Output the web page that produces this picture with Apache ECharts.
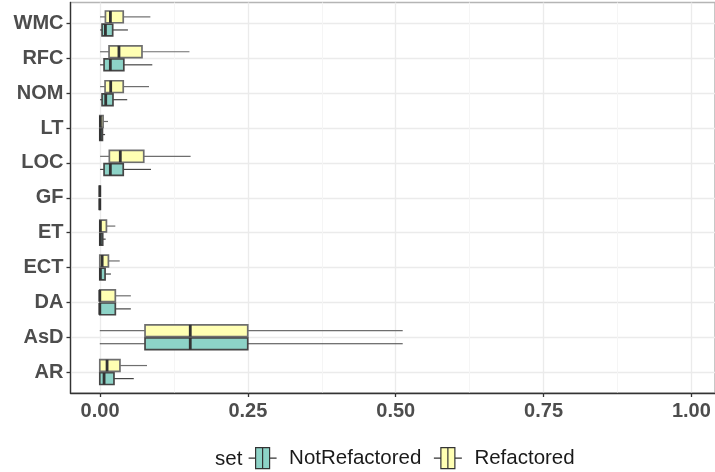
<!DOCTYPE html>
<html>
<head>
<meta charset="utf-8">
<script src="https://cdn.jsdelivr.net/npm/echarts@6/dist/echarts.min.js"></script>
<style>
html,body{margin:0;padding:0;background:#fff;}
#chart{width:715px;height:472px;}
</style>
</head>
<body>
<div id="chart"></div>
<script>
// Categories (bottom to top)
const categories = ['AR','AsD','DA','ECT','ET','GF','LOC','LT','NOM','RFC','WMC'];
const xTicks = [0, 0.25, 0.5, 0.75, 1];
const seriesNames = ['NotRefactored', 'Refactored'];

// NotRefactored box statistics
const notLow  = [0,      0,      0,      0,      0,      0, 0.0005, 0,      0.0005, 0.0005, 0.0005];
const notQ1   = [0,      0.0772, 0,      0,      0,      0, 0.0073, 0,      0.0039, 0.0073, 0.0039];
const notMed  = [0.0073, 0.1544, 0,      0.001,  0.001,  0, 0.018,  0.001,  0.0101, 0.018,  0.0096];
const notQ3   = [0.0242, 0.2525, 0.0265, 0.009,  0.005,  0, 0.040,  0.0045, 0.0225, 0.041,  0.022];
const notHigh = [0.058,  0.517,  0.053,  0.019,  0.010,  0, 0.0874, 0.009,  0.0468, 0.0896, 0.048];

// Refactored box statistics
const refLow  = [0,      0,      0,      0,      0,      0, 0.0005, 0,      0.0005, 0.0005, 0.0005];
const refQ1   = [0,      0.0772, 0,      0,      0,      0, 0.0163, 0,      0.009,  0.0158, 0.0096];
const refMed  = [0.0124, 0.1544, 0,      0.004,  0.001,  0, 0.035,  0.001,  0.0186, 0.0327, 0.0181];
const refQ3   = [0.0344, 0.2525, 0.0265, 0.0147, 0.0113, 0, 0.075,  0.0056, 0.040,  0.072,  0.040];
const refHigh = [0.0806, 0.517,  0.053,  0.034,  0.0265, 0, 0.155,  0.014,  0.084,  0.153,  0.0863];

function buildData(low, q1, med, q3, high) {
  return categories.map((c, i) => [i, low[i], q1[i], med[i], q3[i], high[i]]);
}

const DODGE = 0.1875;      // half of dodge width (0.75/2/2)
const HALF = 0.16875;      // half box height after dodge padding

function makeRenderer(sign, fill, border) {
  return function (params, api) {
    const ci = api.value(0);
    const low = api.value(1), q1 = api.value(2), med = api.value(3), q3 = api.value(4), high = api.value(5);
    const yc = ci + sign * DODGE;
    const pLow = api.coord([low, yc]);
    const pQ1c = api.coord([q1, yc]);
    const pQ3c = api.coord([q3, yc]);
    const pHigh = api.coord([high, yc]);
    const tl = api.coord([q1, yc + HALF]);
    const br = api.coord([q3, yc - HALF]);
    const mt = api.coord([med, yc + HALF]);
    const mb = api.coord([med, yc - HALF]);
    return {
      type: 'group',
      children: [
        { type: 'line', shape: { x1: pLow[0], y1: pLow[1], x2: pQ1c[0], y2: pQ1c[1] },
          style: { stroke: border, lineWidth: 1.2 } },
        { type: 'line', shape: { x1: pQ3c[0], y1: pQ3c[1], x2: pHigh[0], y2: pHigh[1] },
          style: { stroke: border, lineWidth: 1.2 } },
        { type: 'rect', shape: { x: tl[0], y: tl[1], width: br[0] - tl[0], height: br[1] - tl[1] },
          style: { fill: fill, stroke: border, lineWidth: 1.7 } },
        { type: 'line', shape: { x1: mt[0], y1: mt[1], x2: mb[0], y2: mb[1] },
          style: { stroke: '#333333', lineWidth: 2.8 } }
      ]
    };
  };
}

const FONT = '"Liberation Sans", Arial, sans-serif';
const keyIcon = 'path://M0,10.5 L7,10.5 M7,0 L21,0 L21,21 L7,21 Z M14,0 L14,21 M21,10.5 L28,10.5';

const chart = echarts.init(document.getElementById('chart'), null, { renderer: 'canvas' });

const option = {
  animation: false,
  backgroundColor: '#ffffff',
  title: {
    text: 'set', left: 210, top: 444,
    textStyle: { fontFamily: FONT, fontSize: 20.5, fontWeight: 'normal', color: '#1a1a1a' }
  },
  legend: {
    data: [
      { name: seriesNames[0], itemStyle: { color: '#8DD3C7', borderColor: '#333333', borderWidth: 1.2 } },
      { name: seriesNames[1], itemStyle: { color: '#FFFFB3', borderColor: '#333333', borderWidth: 1.2 } }
    ],
    left: 243, top: 442,
    icon: keyIcon,
    itemWidth: 29, itemHeight: 21, itemGap: 12,
    textStyle: { fontFamily: FONT, fontSize: 20.5, color: '#1a1a1a', padding: [0, 0, 0, 7] }
  },
  grid: [
    { left: 70.5, top: 2.5, width: 650.4, height: 390.5, show: true, borderColor: '#b5b5b5', borderWidth: 1.5, backgroundColor: 'transparent' },
    { left: 100.07, top: 2.5, width: 591.3, height: 390.5 },
    { left: 70.5, top: 23.42, width: 650.4, height: 348.66 }
  ],
  xAxis: [
    { gridIndex: 0, type: 'value', min: -0.05, max: 1.05,
      axisLine: { show: true, onZero: false, lineStyle: { color: '#333333', width: 1.3 } },
      axisTick: { show: false }, axisLabel: { show: false }, splitLine: { show: false } },
    { gridIndex: 1, type: 'value', min: 0, max: 1, interval: 0.25, position: 'bottom',
      axisLine: { show: false },
      axisTick: { show: true, length: 4, lineStyle: { color: '#333333', width: 1.3 } },
      axisLabel: { show: true, margin: 8, fontFamily: FONT, fontSize: 20, fontWeight: 'bold', color: '#4d4d4d',
        formatter: v => v.toFixed(2) },
      splitLine: { show: true, lineStyle: { color: '#ebebeb', width: 1.3 } },
      minorTick: { show: false, splitNumber: 2 },
      minorSplitLine: { show: true, lineStyle: { color: '#f5f5f5', width: 1 } } },
    { gridIndex: 2, type: 'value', min: 0, max: 1, show: false }
  ],
  yAxis: [
    { gridIndex: 0, type: 'value', min: -0.6, max: 10.6,
      axisLine: { show: true, onZero: false, lineStyle: { color: '#333333', width: 1.3 } },
      axisTick: { show: false }, axisLabel: { show: false }, splitLine: { show: false } },
    { gridIndex: 1, type: 'value', min: 0, max: 1, show: false },
    { gridIndex: 2, type: 'value', min: 0, max: categories.length - 1, interval: 1,
      axisLine: { show: false },
      axisTick: { show: true, length: 4, lineStyle: { color: '#333333', width: 1.3 } },
      axisLabel: { show: true, margin: 7, fontFamily: FONT, fontSize: 20, fontWeight: 'bold', color: '#4d4d4d',
        formatter: v => categories[Math.round(v)] },
      splitLine: { show: true, lineStyle: { color: '#ebebeb', width: 1.3 } } }
  ],
  series: [
    { name: seriesNames[0], type: 'custom', xAxisIndex: 0, yAxisIndex: 0,
      itemStyle: { color: '#8DD3C7', borderColor: '#333333' },
      encode: { x: [1, 2, 3, 4, 5], y: 0 },
      renderItem: makeRenderer(-1, '#8DD3C7', '#454545'),
      data: buildData(notLow, notQ1, notMed, notQ3, notHigh), z: 5 },
    { name: seriesNames[1], type: 'custom', xAxisIndex: 0, yAxisIndex: 0,
      itemStyle: { color: '#FFFFB3', borderColor: '#333333' },
      encode: { x: [1, 2, 3, 4, 5], y: 0 },
      renderItem: makeRenderer(1, '#FFFFB3', '#6e6e6e'),
      data: buildData(refLow, refQ1, refMed, refQ3, refHigh), z: 5 }
  ]
};

chart.setOption(option);
</script>
</body>
</html>
